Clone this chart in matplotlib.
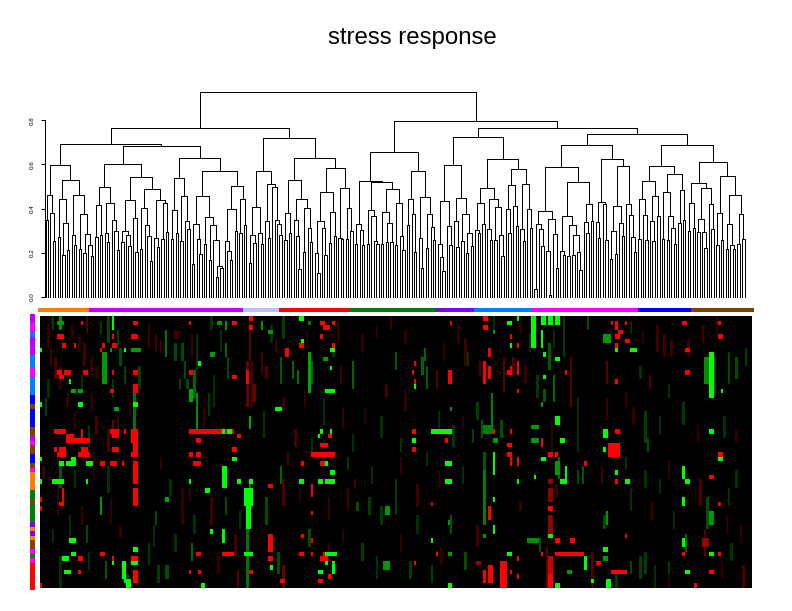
import numpy as np
import matplotlib
matplotlib.use("Agg")
import matplotlib.pyplot as plt
from matplotlib.collections import LineCollection
from matplotlib.colors import LinearSegmentedColormap

W, H = 792, 611

# --- dendrogram, one nested list per cluster: [height, left, right], 0 is a leaf
orange_tree = [.596,
    [.461, [.348, 0, 0], [.38, 0, [.253, 0, 0]]],
    [.529,
        [.443, [.271, 0, 0], [.334, [.19, 0, 0], [.212, 0, 0]]],
        [.461, [.28, 0, [.235, 0, 0]],
            [.375, [.217, 0, 0], [.285, [.2, 0, 0], [.235, 0, [.185, 0, 0]]]]]]]
purple_tree_a = [.60,
    [.497,
        [.416, [.271, 0, 0], [.28, 0, 0]],
        [.425, [.289, 0, [.248, 0, 0]], [.348, 0, [.298, 0, [.212, 0, 0]]]]],
    [.542,
        [.438, [.298, [.248, 0, 0], [.28, 0, [.23, 0, 0]]], [.357, 0, [.203, 0, 0]]],
        [.488,
            [.402, [.217, 0, 0], [.325, 0, [.276, 0, [.163, 0, 0]]]],
            [.438, [.267, 0, [.226, 0, 0]], [.425, [.262, 0, 0], [.294, 0, 0]]]]]]
purple_tree_b = [.628,
    [.538,
        [.393, [.262, 0, 0], [.289, 0, 0]],
        [.456, [.253, 0, 0], [.343, 0, [.307, 0, 0]]]],
    [.569,
        [.456,
            [.33, [.149, 0, 0], [.262, 0, [.194, 0, 0]]],
            [.361, [.239, 0, 0],
                [.325, [.167, 0, 0], [.258, 0, [.14, [.09, 0, 0], [.131, 0, 0]]]]]],
        [.502,
            [.398, [.253, 0, [.208, 0, [.167, 0, 0]]], [.298, 0, 0]],
            [.443, [.289, 0, 0], [.325, 0, 0]]]]]
lavender_tree = [.569,
    [.407, [.28, [.154, 0, 0], [.244, 0, 0]], [.289, 0, [.239, 0, 0]]],
    [.51, [.343, 0, [.267, 0, 0]], [.497, 0, [.348, 0, [.33, 0, [.28, 0, 0]]]]]]
red_tree = [.628,
    [.529,
        [.38, [.257, 0, 0], [.289, 0, 0]],
        [.443,
            [.348, 0, [.276, 0, [.127, 0, 0]]],
            [.402, [.203, 0, 0], [.312, 0, [.248, 0, 0]]]]],
    [.583,
        [.474,
            [.343, [.199, 0, [.108, 0, 0]], [.312, 0, [.19, 0, 0]]],
            [.384, [.244, 0, 0], [.276, 0, 0]]],
        [.492, [.267, 0, [.262, 0, 0]], [.402, [.262, 0, 0], [.298, 0, 0]]]]]
green_tree = [.655,
    [.524,
        [.33, [.239, 0, 0], [.303, 0, [.235, 0, 0]]],
        [.52,
            [.393, [.239, 0, 0], [.366, 0, [.253, 0, [.24, 0, 0]]]],
            [.488,
                [.384, [.239, 0, 0], [.334, [.248, 0, 0], [.248, 0, 0]]],
                [.425, [.235, 0, 0], [.276, 0, [.212, 0, 0]]]]]],
    [.569,
        [.443, [.325, 0, 0], [.375, 0, [.203, 0, 0]]],
        [.452,
            [.267, 0, [.131, 0, 0]],
            [.375, [.221, 0, 0], [.316, 0, [.258, 0, 0]]]]]]
violet_tree = [.596,
    [.434,
        [.239, 0, [.181, 0, [.117, 0, 0]]],
        [.321, 0, [.235, 0, 0]]],
    [.447,
        [.343, 0, [.226, 0, 0]],
        [.375, [.253, 0, 0], [.289, [.199, 0, 0], [.23, 0, 0]]]]]
sky_tree = [.623,
    [.492,
        [.425, [.303, 0, [.289, 0, 0]], [.33, 0, 0]],
        [.443,
            [.307, 0, [.258, 0, 0]],
            [.407, [.258, 0, 0], [.28, 0, [.185, 0, 0]]]]],
    [.578,
        [.506, [.398, 0, [.289, 0, 0]], [.411, 0, [.321, 0, 0]]],
        [.51, [.307, 0, [.253, 0, 0]], [.398, 0, [.312, 0, 0]]]]]
magenta_tree = [.687,
    [.587,
        [.389,
            [.33, [.036, 0, 0], [.307, 0, [.23, 0, 0]]],
            [.352, [.208, 0, [.009, 0, 0]], [.285, 0, [.131, 0, 0]]]],
        [.52,
            [.366,
                [.208, 0, [.19, 0, 0]],
                [.325, [.185, 0, 0], [.28, [.19, 0, 0], [.203, 0, [.122, 0, 0]]]]],
            [.42, [.339, 0, [.289, 0, 0]], [.343, 0, 0]]]],
    [.623,
        [.429, [.339, 0, [.267, 0, 0]], [.42, 0, [.258, 0, 0]]],
        [.592,
            [.411, [.298, [.172, 0, 0], [.194, 0, 0]], [.334, 0, [.276, 0, 0]]],
            [.42, 0, [.37, 0, [.271, 0, [.203, 0, 0]]]]]]]
blue_tree = [.592,
    [.524,
        [.443, [.262, 0, 0], [.37, 0, [.258, 0, 0]]],
        [.456, [.343, 0, [.253, 0, 0]], [.366, 0, 0]]],
    [.556,
        [.474, [.262, 0, 0], [.366, [.258, 0, 0], [.312, 0, [.239, 0, 0]]]],
        [.483, [.334, 0, 0], [.348, 0, 0]]]]
brown_tree = [.61,
    [.515,
        [.425, [.298, 0, 0], [.312, 0, 0]],
        [.492,
            [.352, [.294, 0, 0], [.294, 0, [.221, 0, 0]]],
            [.42, 0, [.307, 0, 0]]]],
    [.547,
        [.38, [.235, 0, 0], [.258, 0, 0]],
        [.461,
            [.33, [.217, 0, 0], [.235, 0, [.217, 0, 0]]],
            [.375, [.239, 0, 0], [.262, 0, 0]]]]]

tree = [.926,
    [.764,
        [.691, orange_tree, [.682, purple_tree_a, purple_tree_b]],
        [.718, lavender_tree, red_tree]],
    [.795,
        green_tree,
        [.764,
            [.723, violet_tree, sky_tree],
            [.736, magenta_tree, [.687, blue_tree, brown_tree]]]]]

y_ticks = [0.0, 0.2, 0.4, 0.6, 0.8]

# --- colour strips
col_strip_colors = ["#FF8000", "#BF00FF", "#BFBFFF", "#FF0000", "#008000",
                    "#8000FF", "#0080FF", "#FF00FF", "#0000FF", "#804000"]
col_strip_counts = [21, 64, 15, 29, 36, 16, 24, 44, 22, 26]

row_strip_colors = ["#BF00FF", "#FF00FF", "#0080FF", "#BF00FF", "#0080FF", "#FF00FF",
                    "#0080FF", "#0000FF", "#804000", "#0000FF", "#804000", "#BF00FF",
                    "#FF00FF", "#804000", "#0000FF", "#804000", "#FF00FF", "#FF8000",
                    "#008000", "#804000", "#008000", "#8000FF", "#FF8000", "#8000FF",
                    "#FF8000", "#804000", "#FF00FF", "#008000", "#FF00FF", "#FF0000"]
row_strip_counts = [2, 2, 1, 4, 3, 2, 4, 2, 1, 4, 2, 1, 1, 2, 2, 1, 1, 4, 2, 1, 4, 1, 1,
                    1, 1, 2, 1, 1, 1, 6]

# --- heatmap, 60 genes x 297 arrays, spots are (row0, row1, col0, col1, value)
n_rows = 60
faint_spots = [
    # left third
    (0, 3, 5, 6, -.25), (1, 3, 8, 9, -.2), (2, 7, 3, 4, .2), (7, 11, 4, 5, .28), (9, 14, 6, 7, .3),
    (11, 16, 8, 9, .22), (14, 18, 3, 4, -.2), (18, 22, 2, 3, -.25), (17, 20, 11, 12, .2), (21, 25, 14, 15, .18),
    (0, 4, 19, 20, .3), (2, 5, 13, 14, .2), (4, 8, 16, 17, .18), (6, 11, 18, 19, .25), (9, 13, 21, 22, .2),
    (11, 14, 23, 24, .22), (13, 17, 17, 18, -.2), (17, 21, 21, 22, .2), (22, 26, 23, 24, .3), (24, 29, 20, 21, -.2),
    (1, 4, 25, 26, -.22), (0, 6, 28, 29, -.28), (3, 7, 32, 33, -.25), (7, 11, 33, 34, -.3), (11, 15, 35, 36, -.25),
    (14, 18, 30, 31, -.22), (18, 22, 37, 38, .2), (22, 25, 32, 33, .25), (23, 26, 30, 31, .35), (25, 30, 28, 29, .3),
    (3, 9, 52, 53, -.45), (2, 7, 45, 46, .22), (4, 8, 48, 49, .28), (5, 8, 50, 51, .25), (6, 10, 56, 57, -.3),
    (6, 10, 59, 60, -.3), (10, 14, 60, 61, -.3), (14, 16, 58, 59, -.28), (14, 16, 61, 62, -.3), (3, 5, 56, 58, .25),
    (11, 16, 41, 42, -.25), (18, 22, 40, 41, .25), (12, 18, 64, 65, -.4), (4, 12, 65, 66, -.2), (4, 9, 63, 64, .25),
    (0, 3, 71, 72, -.2), (3, 8, 75, 76, -.2), (6, 9, 77, 78, -.4), (9, 14, 78, 79, -.28), (13, 20, 72, 73, -.2),
    (17, 22, 70, 71, -.22), (20, 25, 68, 69, .2), (0, 10, 87, 88, .35), (10, 20, 86, 87, .4), (10, 20, 88, 89, .3),
    (15, 19, 89, 90, .45), (8, 13, 92, 93, .25), (11, 14, 94, 95, .3), (21, 27, 93, 94, -.22), (2, 6, 96, 97, -.2),
    (30, 36, 22, 23, .18), (33, 36, 1, 2, .25), (36, 44, 7, 8, .22), (31, 36, 39, 40, .25), (40, 46, 29, 30, .18),
    (38, 46, 59, 60, .2), (40, 46, 71, 72, .25), (40, 44, 77, 78, -.3), (43, 46, 48, 49, -.3), (46, 50, 19, 20, -.3),
    (50, 54, 63, 64, -.4), (53, 60, 8, 9, -.2), (54, 58, 27, 28, -.35), (55, 59, 49, 50, -.25), (33, 39, 28, 29, -.2),
    (40, 46, 94, 95, -.3), (44, 50, 12, 13, -.2), (46, 51, 47, 48, -.2), (56, 60, 82, 83, .35), (34, 38, 14, 15, -.2),
    (42, 46, 17, 18, .22), (46, 49, 33, 34, .2), (31, 34, 50, 51, .18), (36, 40, 54, 55, -.2), (38, 41, 62, 63, .22),
    (44, 48, 64, 65, -.2), (48, 52, 56, 57, -.18), (50, 55, 45, 46, -.22), (55, 58, 52, 54, -.3), (57, 60, 36, 37, -.25),
    (52, 56, 20, 21, -.2), (47, 50, 5, 6, -.18), (53, 57, 74, 75, .2), (48, 53, 81, 82, .28), (43, 47, 83, 84, -.22),
    # middle third
    (0, 5, 101, 102, -.25), (5, 8, 98, 99, .25), (9, 15, 100, 101, -.35), (10, 14, 105, 106, -.4), (12, 15, 107, 108, -.45),
    (7, 9, 122, 123, -.25), (11, 15, 125, 126, .25), (10, 16, 130, 131, -.4), (8, 12, 148, 149, -.35), (15, 18, 144, 145, .25),
    (9, 13, 159, 160, -.4), (11, 16, 161, 162, -.35), (7, 10, 160, 161, -.4), (12, 16, 165, 166, .3), (10, 13, 183, 184, .3),
    (19, 23, 182, 183, -.25), (23, 27, 184, 185, -.35), (23, 27, 192, 193, -.3), (9, 17, 193, 194, .35), (5, 11, 177, 178, .25),
    (18, 21, 101, 102, .25), (25, 29, 106, 107, .3), (27, 30, 150, 151, -.2), (20, 25, 126, 127, .2), (30, 33, 103, 104, .3),
    (33, 37, 100, 101, -.4), (36, 42, 101, 102, .3), (38, 43, 128, 129, .25), (41, 43, 132, 133, -.3), (40, 44, 137, 138, -.25),
    (36, 38, 131, 132, .3), (37, 42, 157, 158, .25), (36, 44, 148, 149, -.25), (44, 48, 171, 172, -.35), (30, 38, 185, 186, -.35),
    (34, 46, 185, 186, -.5), (47, 51, 112, 113, -.3), (50, 54, 134, 135, -.25), (53, 58, 140, 141, -.2), (52, 57, 99, 100, -.3),
    (55, 60, 101, 102, .4), (55, 59, 163, 164, -.25), (52, 56, 177, 178, -.3), (46, 51, 182, 183, .25), (3, 7, 111, 112, .18),
    (1, 6, 124, 125, .2), (4, 8, 134, 135, .2), (2, 5, 140, 141, .18), (0, 3, 146, 147, .22), (3, 6, 152, 153, .2),
    (6, 10, 168, 169, .22), (2, 6, 174, 175, .2), (8, 11, 178, 179, -.22), (0, 4, 189, 190, -.2), (16, 20, 110, 111, .2),
    (18, 24, 118, 119, -.2), (20, 24, 135, 136, .18), (22, 27, 142, 143, -.2), (17, 21, 152, 153, .2), (21, 25, 166, 167, -.2),
    (24, 29, 172, 173, -.22), (22, 25, 176, 177, .18), (27, 30, 113, 114, -.22), (26, 30, 130, 131, -.2), (25, 28, 180, 181, -.25),
    (31, 34, 128, 129, -.22), (33, 37, 138, 139, -.2), (31, 35, 150, 151, .2), (30, 33, 161, 162, -.2), (34, 38, 166, 167, .18),
    (33, 37, 176, 177, -.2), (38, 41, 108, 109, .2), (40, 45, 120, 121, .22), (42, 46, 142, 143, -.22), (44, 48, 157, 158, -.18),
    (47, 50, 126, 127, .2), (48, 52, 150, 151, .18), (50, 54, 120, 121, .25), (51, 55, 167, 168, .2), (54, 58, 154, 155, -.25),
    # right third
    (0, 9, 218, 219, -.25), (3, 7, 214, 215, -.2), (6, 12, 212, 213, -.35), (9, 13, 197, 198, .35), (9, 20, 221, 222, .35),
    (10, 15, 236, 237, .35), (0, 3, 228, 229, -.3), (13, 19, 214, 215, -.4), (16, 19, 210, 211, -.35), (18, 30, 224, 225, -.2),
    (9, 17, 281, 282, -.25), (8, 15, 287, 288, -.3), (9, 14, 290, 291, -.3), (7, 11, 294, 295, -.25), (2, 8, 257, 258, .25),
    (4, 9, 260, 261, .25), (5, 9, 270, 271, .25), (13, 16, 254, 255, .3), (18, 23, 236, 237, .2), (23, 30, 213, 214, .2),
    (21, 28, 252, 253, -.25), (27, 30, 253, 254, -.3), (33, 37, 226, 227, -.35), (31, 36, 216, 217, -.4), (34, 37, 224, 225, -.3),
    (33, 37, 234, 235, .25), (37, 40, 215, 216, .25), (41, 43, 200, 201, .25), (44, 47, 235, 236, -.3), (49, 52, 208, 209, -.3),
    (52, 57, 252, 253, -.25), (53, 58, 250, 251, -.25), (51, 60, 211, 212, .35), (52, 60, 230, 231, .3), (47, 53, 277, 278, .3),
    (36, 42, 275, 276, .3), (54, 58, 262, 263, -.25), (55, 60, 256, 257, -.2), (40, 47, 278, 279, -.3), (38, 42, 287, 288, -.2),
    (48, 52, 269, 270, -.4), (1, 4, 200, 201, .2), (4, 8, 204, 205, -.2), (11, 15, 202, 203, .22), (13, 18, 207, 208, -.22),
    (1, 4, 246, 247, -.18), (3, 6, 251, 252, .2), (5, 9, 263, 264, .22), (2, 6, 276, 277, .25), (0, 4, 282, 283, .2),
    (11, 14, 250, 251, -.2), (15, 18, 262, 263, -.2), (17, 20, 244, 245, .22), (20, 24, 247, 248, .2), (22, 26, 258, 259, -.2),
    (19, 24, 268, 269, -.22), (24, 28, 274, 275, .2), (22, 27, 285, 286, -.2), (25, 28, 290, 291, .18), (31, 34, 244, 245, -.2),
    (34, 38, 252, 253, -.18), (32, 36, 262, 263, .2), (36, 39, 258, 259, -.2), (38, 43, 246, 247, -.18), (41, 45, 255, 256, .2),
    (43, 47, 264, 265, -.2), (44, 48, 286, 287, .18), (46, 50, 292, 293, .2), (34, 38, 290, 291, -.18), (50, 54, 288, 289, -.2),
    (54, 58, 284, 285, .2), (55, 60, 293, 294, .3), (56, 60, 240, 241, -.22), (54, 57, 246, 247, -.28), (57, 60, 262, 263, .18),
]
medium_spots = [
    (0, 3, 8, 9, -.55), (1, 2, 7, 10, -.6), (1, 2, 74, 76, -.6), (1, 3, 77, 78, -.6),
    (1, 3, 92, 93, -.6), (3, 4, 95, 97, -.6), (7, 8, 29, 30, -.6), (7, 8, 38, 39, -.6),
    (7, 8, 39, 42, -.6), (8, 9, 71, 73, -.6), (8, 15, 26, 28, -.6), (16, 17, 13, 15, -.65),
    (16, 17, 16, 18, -.65), (16, 19, 62, 64, -.65), (20, 21, 31, 33, -.65), (17, 26, 65, 66, -.55),
    (17, 25, 39, 40, -.45), (22, 25, 87, 88, -.65), (25, 26, 29, 32, -.65), (40, 41, 52, 54, -.65),
    (40, 44, 25, 26, -.6), (36, 46, 87, 88, -.5), (46, 60, 86, 87, -.45), (33, 38, 8, 9, -.35),
    (1, 2, 112, 113, -.5), (8, 17, 112, 113, -.65), (10, 15, 113, 114, -.4), (9, 10, 118, 120, -.6),
    (3, 4, 189, 190, -.6), (17, 26, 188, 189, -.5), (24, 26, 185, 188, -.5), (27, 28, 189, 191, -.6),
    (20, 21, 171, 172, -.6), (42, 44, 144, 146, -.6), (45, 46, 170, 171, -.6), (48, 49, 185, 186, -.6),
    (52, 53, 170, 172, -.6), (54, 56, 143, 146, -.6), (4, 6, 235, 238, -.6), (19, 20, 209, 210, -.6),
    (9, 15, 277, 279, -.55), (24, 25, 205, 208, -.6), (27, 28, 205, 208, -.6), (43, 46, 279, 281, -.6),
    (49, 50, 203, 208, -.55), (53, 54, 235, 237, -.6), (32, 35, 215, 217, -.6), (43, 46, 236, 237, -.6),
    (56, 57, 220, 222, -.6), (38, 41, 212, 214, .55), (44, 48, 212, 214, .55), (36, 37, 212, 214, .6),
    (49, 51, 276, 279, .6), (54, 55, 182, 184, .6), (53, 60, 212, 214, .8),
]
red_spots = [
    (0, 1, 87, 89), (1, 2, 17, 18), (1, 2, 39, 41), (1, 2, 62, 63), (1, 2, 80, 82), (2, 3, 87, 89),
    (4, 5, 7, 10), (4, 5, 30, 31), (4, 5, 38, 41), (6, 7, 9, 11), (6, 7, 14, 15), (6, 7, 26, 27),
    (6, 7, 30, 32), (7, 8, 25, 26), (12, 13, 7, 9), (12, 13, 10, 12), (12, 13, 12, 13), (12, 13, 18, 20),
    (12, 13, 30, 31), (12, 13, 39, 41), (12, 13, 62, 64), (12, 15, 86, 87), (13, 14, 8, 10), (13, 14, 80, 82),
    (15, 17, 39, 41), (16, 17, 29, 31), (25, 26, 6, 11), (25, 26, 17, 18), (25, 26, 29, 33), (25, 26, 35, 36),
    (25, 28, 38, 41), (25, 26, 62, 81), (26, 27, 11, 14), (26, 27, 17, 18), (26, 27, 30, 33), (26, 27, 82, 84),
    (27, 28, 11, 21), (27, 28, 65, 67), (28, 30, 39, 41), (29, 30, 6, 7), (29, 30, 8, 11), (29, 30, 17, 20),
    (29, 30, 30, 33), (29, 30, 80, 82), (30, 31, 7, 11), (30, 31, 16, 21), (30, 31, 38, 41), (30, 31, 62, 64),
    (30, 31, 65, 67), (32, 33, 25, 27), (32, 33, 29, 32), (32, 33, 34, 35), (32, 36, 39, 41), (32, 33, 64, 67),
    (36, 37, 39, 41), (37, 38, 95, 97), (38, 42, 39, 41), (38, 42, 9, 10), (40, 41, 0, 1), (41, 42, 8, 10),
    (42, 43, 0, 1), (48, 52, 95, 97), (52, 53, 25, 27), (52, 53, 65, 67), (52, 53, 76, 81), (53, 54, 16, 18),
    (53, 54, 30, 31), (53, 54, 38, 41), (53, 54, 95, 97), (56, 57, 16, 17), (56, 59, 39, 41), (56, 57, 62, 63),
    (56, 57, 66, 67), (56, 57, 87, 89), (59, 60, 0, 1),
    (0, 1, 185, 187), (1, 2, 117, 119), (1, 2, 122, 123), (1, 2, 171, 172), (2, 3, 118, 121), (2, 3, 185, 187),
    (4, 5, 117, 118), (4, 5, 196, 197), (6, 7, 108, 110), (6, 7, 122, 123), (6, 7, 199, 200), (7, 9, 102, 104),
    (7, 9, 187, 188), (10, 15, 185, 186), (10, 11, 156, 157), (11, 14, 187, 188), (12, 15, 170, 172),
    (12, 13, 155, 156), (12, 13, 195, 197), (14, 15, 156, 157), (25, 26, 155, 157), (25, 26, 189, 190),
    (25, 26, 196, 197), (26, 27, 120, 122), (27, 28, 169, 170), (28, 29, 117, 120), (28, 29, 195, 197),
    (29, 30, 155, 157), (30, 31, 113, 123), (30, 31, 195, 197), (31, 33, 196, 197), (32, 33, 117, 120),
    (32, 33, 109, 110), (37, 40, 113, 114), (41, 42, 163, 164), (42, 45, 187, 188), (43, 44, 113, 114),
    (48, 49, 109, 110), (49, 50, 113, 114), (49, 52, 95, 96), (52, 53, 108, 110), (52, 53, 113, 114),
    (52, 53, 118, 120), (52, 53, 165, 166), (53, 54, 117, 120), (54, 55, 156, 157), (54, 60, 192, 195),
    (55, 59, 187, 189), (57, 58, 120, 122), (58, 59, 100, 102), (58, 59, 116, 118), (56, 59, 185, 186),
    (1, 2, 238, 239), (1, 3, 240, 241), (1, 2, 244, 245), (1, 2, 268, 270), (1, 2, 283, 284), (3, 4, 241, 243),
    (4, 5, 240, 242), (4, 5, 283, 285), (4, 5, 196, 197), (5, 6, 244, 246), (6, 7, 240, 241), (7, 8, 269, 271),
    (10, 13, 199, 200), (11, 12, 196, 197), (12, 13, 195, 197), (12, 13, 219, 220), (12, 13, 269, 271),
    (14, 15, 240, 241), (16, 17, 199, 200), (25, 26, 240, 242), (27, 28, 209, 210), (28, 29, 209, 210),
    (28, 31, 237, 242), (30, 31, 212, 214), (30, 31, 215, 216), (30, 31, 283, 285), (30, 31, 195, 197),
    (31, 33, 196, 197), (31, 33, 199, 200), (32, 33, 227, 228), (35, 36, 279, 281), (36, 37, 240, 241),
    (41, 42, 283, 284), (42, 43, 212, 214), (48, 49, 244, 245), (49, 50, 215, 217), (49, 50, 221, 223),
    (52, 53, 209, 210), (52, 53, 215, 227), (52, 53, 268, 269), (52, 53, 283, 284), (53, 54, 199, 200),
    (54, 55, 232, 234), (56, 57, 196, 197), (56, 57, 238, 245), (56, 57, 279, 281), (57, 58, 199, 200),
    (59, 60, 273, 274), (57, 60, 212, 214),
]
green_spots = [
    (0, 3, 30, 31), (7, 8, 0, 1), (7, 8, 35, 36), (10, 11, 66, 67), (14, 15, 12, 13), (19, 20, 0, 1),
    (19, 20, 16, 18), (19, 20, 39, 41), (25, 26, 76, 77), (25, 26, 78, 80), (31, 32, 0, 1), (31, 32, 13, 15),
    (31, 32, 80, 82), (32, 33, 8, 10), (32, 33, 11, 15), (32, 33, 19, 22), (33, 38, 76, 78), (36, 37, 0, 1),
    (36, 37, 5, 10), (36, 37, 19, 20), (36, 37, 62, 63), (36, 37, 82, 84), (36, 37, 87, 89), (38, 39, 69, 71),
    (38, 42, 85, 89), (42, 47, 86, 88), (47, 48, 71, 72), (47, 50, 76, 77), (49, 50, 12, 15), (51, 52, 39, 41),
    (52, 53, 13, 15), (52, 53, 85, 89), (53, 54, 9, 12), (54, 55, 30, 31), (54, 58, 34, 36), (54, 55, 38, 41),
    (55, 56, 96, 97), (56, 57, 10, 13), (58, 59, 35, 38), (59, 60, 36, 38), (59, 60, 67, 69),
    (0, 1, 108, 110), (1, 2, 195, 197), (5, 6, 109, 110), (6, 7, 196, 197), (7, 8, 121, 123), (11, 12, 121, 122),
    (15, 16, 156, 157), (16, 17, 119, 121), (16, 17, 121, 123), (20, 21, 98, 101), (25, 26, 163, 172),
    (25, 26, 117, 118), (25, 26, 121, 122), (26, 27, 116, 117), (27, 28, 155, 157), (30, 35, 189, 190),
    (32, 33, 169, 172), (32, 33, 119, 120), (34, 35, 121, 123), (36, 37, 108, 110), (36, 37, 116, 118),
    (36, 37, 119, 123), (36, 37, 169, 172), (36, 37, 199, 200), (40, 41, 189, 190), (46, 48, 189, 190),
    (49, 50, 163, 164), (52, 53, 119, 121), (52, 53, 121, 124), (52, 53, 195, 197), (54, 55, 119, 120),
    (54, 57, 122, 123), (56, 57, 116, 118), (59, 60, 170, 172),
    (0, 1, 199, 200), (0, 7, 205, 207), (0, 2, 209, 211), (0, 2, 212, 214), (0, 2, 215, 217), (1, 2, 195, 197),
    (3, 7, 209, 210), (6, 7, 196, 197), (7, 8, 240, 241), (7, 8, 246, 249), (8, 9, 210, 211), (9, 10, 215, 217),
    (8, 18, 279, 281), (13, 14, 210, 211), (16, 17, 284, 285), (22, 24, 215, 217), (25, 27, 235, 237),
    (25, 26, 279, 281), (27, 28, 217, 219), (29, 30, 235, 236), (31, 32, 209, 211), (31, 32, 283, 285),
    (33, 36, 219, 220), (33, 36, 268, 269), (34, 35, 240, 241), (35, 36, 206, 207), (36, 37, 217, 220),
    (36, 37, 244, 246), (36, 37, 269, 271), (40, 42, 268, 269), (48, 49, 212, 214), (49, 51, 268, 269),
    (51, 52, 235, 237), (52, 53, 279, 281), (53, 56, 227, 228), (56, 57, 269, 271), (58, 59, 230, 231),
    (58, 60, 236, 238), (59, 60, 215, 217),
]

title = "stress response"


def px_axes(left, top, right, bottom):
    # axes given in image pixels, measured from the top left
    return fig.add_axes([left / W, 1 - bottom / H, (right - left) / W, (bottom - top) / H])


def layout(node, segs, next_leaf):
    # returns x, height of a node and appends its three lines to segs
    if node == 0:
        x = next_leaf[0]
        next_leaf[0] += 1
        return x, 0.0
    h, left, right = node
    xl, hl = layout(left, segs, next_leaf)
    xr, hr = layout(right, segs, next_leaf)
    segs.append([(xl, hl), (xl, h)])
    segs.append([(xr, hr), (xr, h)])
    segs.append([(xl, h), (xr, h)])
    return (xl + xr) / 2, h


fig = plt.figure(figsize=(W / 100, H / 100), dpi=100, facecolor="white")

# --- title
fig.text(412 / W, 1 - 38 / H, title, ha="center", va="center", fontsize=17.3,
         family="Liberation Sans")

# --- dendrogram
segs = []
next_leaf = [0]
layout(tree, segs, next_leaf)
n_leaves = next_leaf[0]

ax_tree = px_axes(45.7, 85, 744.5, 297)
ax_tree.set_xlim(0, n_leaves - 1)
ax_tree.set_ylim(0, 212 / 220.9)
ax_tree.patch.set_visible(False)
ax_tree.add_collection(LineCollection(segs, colors="black", linewidths=0.72, antialiased=False,
                                      clip_on=False))
for side in ["top", "right", "bottom"]:
    ax_tree.spines[side].set_visible(False)
ax_tree.spines["left"].set_position(("outward", 0.8))
ax_tree.spines["left"].set_bounds(0, 0.8)
ax_tree.spines["left"].set_linewidth(0.72)
ax_tree.spines["left"].set_antialiased(False)
ax_tree.set_xticks([])
ax_tree.set_yticks(y_ticks)
ax_tree.set_yticklabels(["%.1f" % t for t in y_ticks], rotation=90, va="center",
                        fontsize=4.5, family="Liberation Sans")
ax_tree.tick_params(axis="y", length=2.9, width=0.72, pad=4.5)

# --- column strip
ax_top = px_axes(38, 308, 754, 312)
starts = np.cumsum([0] + col_strip_counts[:-1])
ax_top.barh(0, col_strip_counts, left=starts, height=1, color=col_strip_colors, linewidth=0)
ax_top.set_xlim(0, sum(col_strip_counts))
ax_top.set_ylim(-0.5, 0.5)
ax_top.axis("off")

# --- row strip
ax_side = px_axes(30, 314, 35, 590)
starts = np.cumsum([0] + row_strip_counts[:-1])
ax_side.bar(0, row_strip_counts, bottom=starts, width=1, color=row_strip_colors, linewidth=0)
ax_side.set_ylim(sum(row_strip_counts), 0)
ax_side.set_xlim(-0.5, 0.5)
ax_side.axis("off")

# --- heatmap
matrix = np.zeros((n_rows, n_leaves))
for r0, r1, c0, c1, v in faint_spots + medium_spots:
    matrix[r0:r1, c0:c1] = v
for r0, r1, c0, c1 in red_spots:
    matrix[r0:r1, c0:c1] = 1.0
for r0, r1, c0, c1 in green_spots:
    matrix[r0:r1, c0:c1] = -1.0

cmap = LinearSegmentedColormap.from_list("gbr", ["#00FF00", "#000000", "#FF0000"])
ax_heat = px_axes(40, 316, 752, 588)
ax_heat.imshow(matrix, cmap=cmap, vmin=-1, vmax=1, aspect="auto", interpolation="nearest")
ax_heat.axis("off")

fig.savefig("out.png", dpi=100)
